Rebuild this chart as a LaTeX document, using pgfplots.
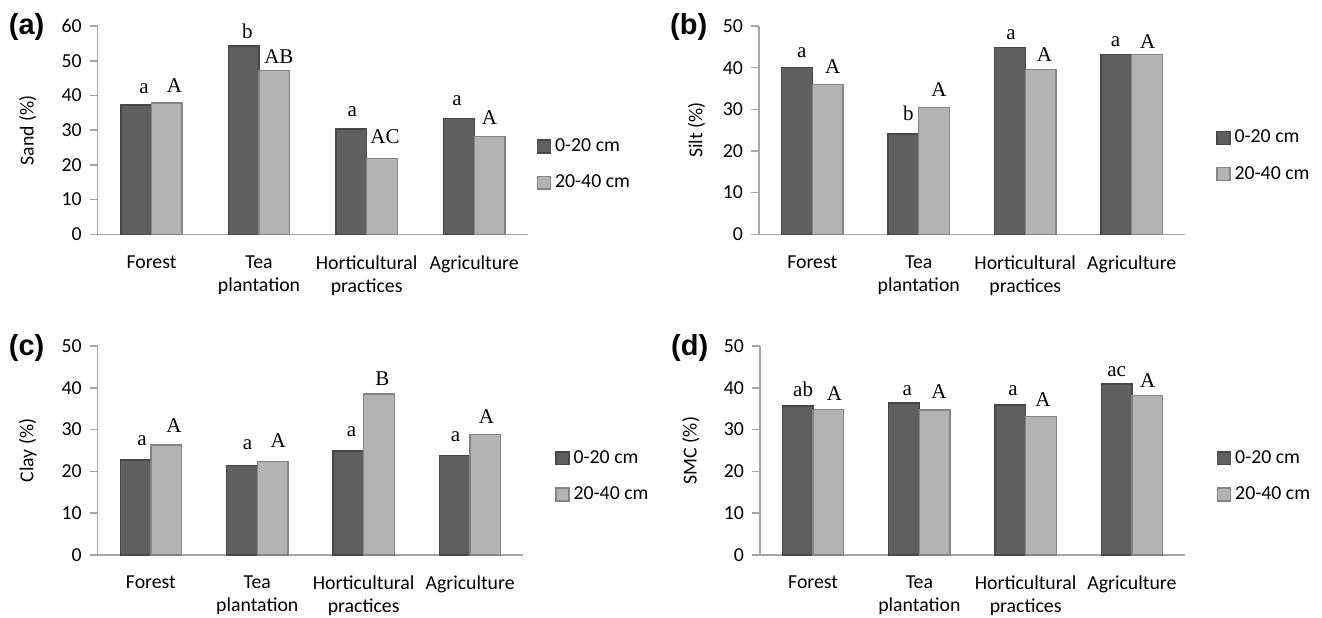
\documentclass[border=0pt]{standalone}
\usepackage{fontspec}
\setmainfont{Carlito}
\newfontfamily\tnr{Liberation Serif}
\newfontfamily\arb{Liberation Sans}
\usepackage{pgfplots}
\usepackage{pgfplotstable}
\pgfplotsset{compat=1.18}
\definecolor{darkbar}{HTML}{5F5F5F}
\definecolor{darkedge}{HTML}{474747}
\definecolor{lightbar}{HTML}{B3B3B3}
\definecolor{lightedge}{HTML}{858585}
\definecolor{axgray}{HTML}{A6A6A6}

% columns: category, 0-20 value, letter, dx(pt), dy(pt), 20-40 value, letter, dx, dy
\pgfplotstableread{
x y1 l1 dxa dya y2 l2 dxb dyb
0 37.3 a 3.9 5.85 37.8 A 3.85 5.35
1 54.3 b 1.75 3.85 47.2 AB 2.25 3.65
2 30.3 a 0.5 6.35 21.8 AC 1.5 7.5
3 33.3 a -1 6.5 28.1 A 0 6.35
}\sand
\pgfplotstableread{
x y1 l1 dxa dya y2 l2 dxb dyb
0 40.0 a 2.4 5.15 35.9 A 2.6 5.5
1 24.1 b 2.4 6.85 30.5 A 2.5 5.35
2 44.8 a 0.5 3.85 39.5 A 2.0 4.15
3 43.2 a -0.5 3.85 43.1 A 0.3 3.35
}\silt
\pgfplotstableread{
x y1 l1 dxa dya y2 l2 dxb dyb
0 22.7 a 3.25 7.5 26.3 A 3.9 6.35
1 21.4 a 2.75 7.85 22.4 A 2.75 7.0
2 24.9 a 1.6 7.15 38.5 B 1.7 4.5
3 23.8 a 0.4 6.85 28.9 A 0.5 5.5
}\clay
\pgfplotstableread{
x y1 l1 dxa dya y2 l2 dxb dyb
0 35.6 ab 2.65 5.0 34.8 A 2.95 4.35
1 36.4 a 1.6 3.85 34.7 A 2.1 5.5
2 35.9 a 1.35 4.5 33.1 A 1.05 5.0
3 40.9 ac 0 4.0 38.1 A 0.2 4.15
}\smc

\tikzset{plab/.style={anchor=west, inner sep=0pt, font=\arb\bfseries\fontsize{14.5}{17}\selectfont}}
\pgfplotsset{
  panel/.style={
    scale only axis,
    ybar=0pt, bar width=15.3pt,
    axis x line*=bottom, axis y line*=left,
    axis line style={draw=axgray, line width=0.8pt},
    xmin=-0.5, xmax=3.5, ymin=0,
    xtick={0,1,2,3},
    xticklabels={Forest,Tea\\plantation,Horticultural\\practices,Agriculture},
    x tick label style={font=\fontsize{9.9}{11.5}\selectfont, align=center, anchor=north, inner sep=0pt, yshift=-6.35pt},
    y tick label style={font=\fontsize{9.9}{12}\selectfont, anchor=east, inner sep=0pt, xshift=-3.85pt},
    /pgf/number format/assume math mode=true,
    major x tick style={draw=none},
    ytick style={draw=axgray, line width=0.8pt},
    tick align=outside, major tick length=4pt,
    ylabel style={font=\fontsize{9.9}{12}\selectfont, anchor=center},
    clip=false,
    legend image code/.code={\draw[##1] (0pt,-3.2pt) rectangle (6.4pt,3.2pt);},
    legend style={draw=none, fill=none, inner sep=0pt, row sep=10.2pt, column sep=2pt,
      font=\fontsize{9.9}{12}\selectfont, nodes={inner sep=0pt}, anchor=west},
    legend cell align=left,
    nodes near coords,
    point meta=explicit symbolic,
    every node near coord/.append style={font=\tnr\fontsize{10.5}{12}\selectfont, anchor=base, inner sep=0pt,
      xshift=\shx pt, yshift=\shy pt, text=black},
  },
  dark/.style={fill=darkbar, draw=darkedge, line width=0.7pt},
  light/.style={fill=lightbar, draw=lightedge, line width=0.7pt},
}

\begin{document}
\begin{tikzpicture}
\path[use as bounding box] (0,0) rectangle (661pt,308.5pt);

% (a) Sand
\begin{axis}[panel, at={(48.85pt,191.35pt)}, anchor=south west,
  width=215.15pt, height=104.15pt, ymax=60, ytick={0,10,...,60},
  ylabel={Sand (\%)}, ylabel style={at={([xshift=-35pt]axis description cs:0,0.5)}},
  legend style={at={([xshift=4.25pt]axis description cs:1,0.335)}}]
\addplot[dark, visualization depends on={\thisrow{dxa}\as\shx}, visualization depends on={\thisrow{dya}\as\shy}]
  table[x=x, y=y1, meta=l1]{\sand};
\addplot[light, visualization depends on={\thisrow{dxb}\as\shx}, visualization depends on={\thisrow{dyb}\as\shy}]
  table[x=x, y=y2, meta=l2]{\sand};
\legend{0-20 cm, 20-40 cm}
\node[plab] at ([xshift=-44.6pt,yshift=-0.5pt]axis description cs:0,1) {(a)};
\end{axis}

% (b) Silt
\begin{axis}[panel, at={(379.5pt,191.35pt)}, anchor=south west,
  width=213pt, height=104.15pt, ymax=50, ytick={0,10,...,50},
  ylabel={Silt (\%)}, ylabel style={at={([xshift=-31.3pt]axis description cs:0,0.5)}},
  legend style={at={([xshift=15.5pt]axis description cs:1,0.376)}}]
\addplot[dark, visualization depends on={\thisrow{dxa}\as\shx}, visualization depends on={\thisrow{dya}\as\shy}]
  table[x=x, y=y1, meta=l1]{\silt};
\addplot[light, visualization depends on={\thisrow{dxb}\as\shx}, visualization depends on={\thisrow{dyb}\as\shy}]
  table[x=x, y=y2, meta=l2]{\silt};
\legend{0-20 cm, 20-40 cm}
\node[plab] at ([xshift=-44.6pt,yshift=-0.5pt]axis description cs:0,1) {(b)};
\end{axis}

% (c) Clay
\begin{axis}[panel, at={(48.85pt,31pt)}, anchor=south west,
  width=212.8pt, height=104.5pt, ymax=50, ytick={0,10,...,50},
  ylabel={Clay (\%)}, ylabel style={at={([xshift=-35pt]axis description cs:0,0.5)}},
  legend style={at={([xshift=15.85pt]axis description cs:1,0.376)}}]
\addplot[dark, visualization depends on={\thisrow{dxa}\as\shx}, visualization depends on={\thisrow{dya}\as\shy}]
  table[x=x, y=y1, meta=l1]{\clay};
\addplot[light, visualization depends on={\thisrow{dxb}\as\shx}, visualization depends on={\thisrow{dyb}\as\shy}]
  table[x=x, y=y2, meta=l2]{\clay};
\legend{0-20 cm, 20-40 cm}
\node[plab] at ([xshift=-44.6pt,yshift=-0.75pt]axis description cs:0,1) {(c)};
\end{axis}

% (d) SMC
\begin{axis}[panel, at={(380pt,31pt)}, anchor=south west,
  width=212.5pt, height=104.5pt, ymax=50, ytick={0,10,...,50},
  ylabel={SMC (\%)}, ylabel style={at={([xshift=-34.65pt]axis description cs:0,0.5)}},
  legend style={at={([xshift=15.8pt]axis description cs:1,0.376)}}]
\addplot[dark, visualization depends on={\thisrow{dxa}\as\shx}, visualization depends on={\thisrow{dya}\as\shy}]
  table[x=x, y=y1, meta=l1]{\smc};
\addplot[light, visualization depends on={\thisrow{dxb}\as\shx}, visualization depends on={\thisrow{dyb}\as\shy}]
  table[x=x, y=y2, meta=l2]{\smc};
\legend{0-20 cm, 20-40 cm}
\node[plab] at ([xshift=-44.6pt,yshift=-0.75pt]axis description cs:0,1) {(d)};
\end{axis}
\end{tikzpicture}
\end{document}
